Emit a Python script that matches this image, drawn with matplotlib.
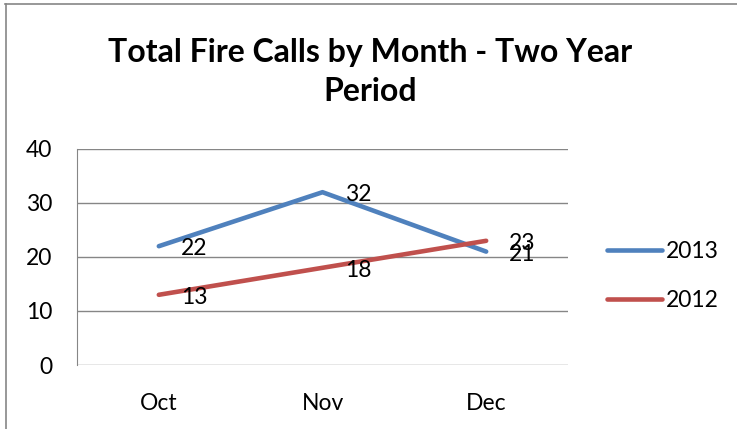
import matplotlib.pyplot as plt
from matplotlib.lines import Line2D

plt.rcParams['font.family'] = ['Lato', 'DejaVu Sans']

months = ['Oct', 'Nov', 'Dec']
calls_2013 = [22, 32, 21]
calls_2012 = [13, 18, 23]
yticks = [0, 10, 20, 30, 40]

blue = '#4F81BD'
red = '#C0504D'
grid = '#868686'
fs = 16.5

fig = plt.figure(figsize=(7.37, 4.29), dpi=100, facecolor='white')
ax = fig.add_axes([77/737, 1 - 365/429, (568 - 77)/737, (365 - 149)/429])

x = list(range(len(months)))
ax.plot(x, calls_2013, color=blue, lw=3.3, solid_capstyle='round', label='2013')
ax.plot(x, calls_2012, color=red, lw=3.3, solid_capstyle='round', label='2012')

# data labels to the right of each point
for series in (calls_2013, calls_2012):
    for xi, v in zip(x, series):
        ax.annotate(str(v), (xi, v), xytext=(16, -2), textcoords='offset points',
                    ha='left', va='center', fontsize=fs)

ax.set_xlim(-0.5, 2.5)
ax.set_ylim(0, 40)
ax.set_xticks(x)
ax.set_xticklabels(months)
ax.set_yticks(yticks)
ax.tick_params(length=0, labelsize=fs, colors='black')
ax.tick_params(axis='y', pad=18)
ax.tick_params(axis='x', pad=20)
ax.grid(axis='y', color=grid, lw=1)
ax.set_axisbelow(True)
for s in ('top', 'right', 'bottom'):
    ax.spines[s].set_visible(False)
ax.spines['left'].set_color(grid)

fig.text(370/737, 1 - 72/429, 'Total Fire Calls by Month - Two Year\nPeriod',
         ha='center', va='center', fontsize=23, fontweight='bold', linespacing=1.4)

fig.legend(loc='center left', bbox_to_anchor=(586/737, 1 - 276/429), frameon=False,
           fontsize=fs, handlelength=2.4, handletextpad=0.17, labelspacing=1.25)

# outer chart border (cut off on right and bottom)
fig.add_artist(Line2D([5/737, 1], [1 - 4/429, 1 - 4/429], color=grid, lw=1.2))
fig.add_artist(Line2D([6/737, 6/737], [0, 1 - 4/429], color=grid, lw=1.2))

fig.savefig('out.png', dpi=100)
